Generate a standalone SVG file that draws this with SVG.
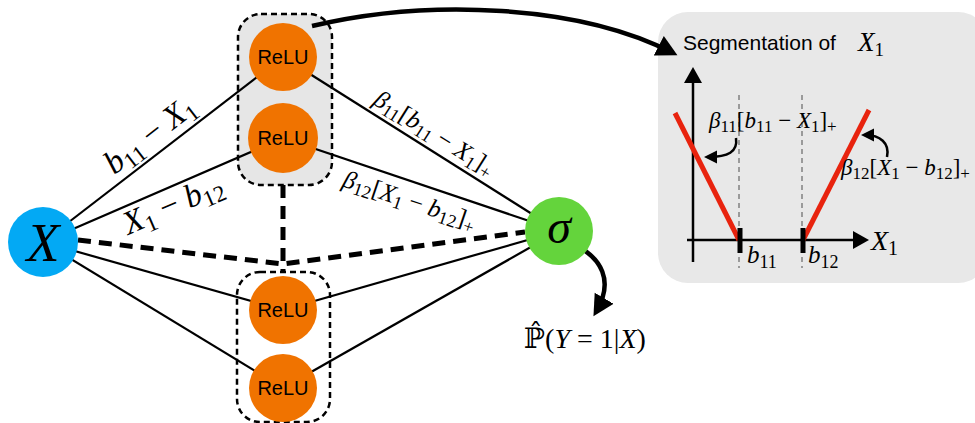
<svg xmlns="http://www.w3.org/2000/svg" width="975" height="423" viewBox="0 0 975 423">
<style>
.m{font-family:"Liberation Serif","DejaVu Serif",serif;fill:#000}
.i{font-style:italic}
.sans{font-family:"Liberation Sans",Arial,sans-serif;fill:#000}
.edge{stroke:#000;stroke-width:2.2;fill:none}
.thick{stroke:#000;stroke-width:5;stroke-dasharray:13 8;fill:none}
.box{stroke:#000;stroke-width:2.5;stroke-dasharray:6 4}
.relu{fill:#f07300}
.rl{font-family:"Liberation Sans",Arial,sans-serif;font-size:20px;text-anchor:middle;fill:#000}
.guide{stroke:#9a9a9a;stroke-width:2;stroke-dasharray:5 4}
.red{stroke:#e8230e;stroke-width:5;stroke-linecap:butt}
.arr{stroke:#000;fill:none}
</style>
<defs>
<marker id="big" markerUnits="userSpaceOnUse" markerWidth="22" markerHeight="24" refX="16" refY="11" orient="auto" viewBox="0 0 22 22">
<path d="M0,0 L21,11 L0,22 z" fill="#000"/>
</marker>
<marker id="small" markerUnits="userSpaceOnUse" markerWidth="14" markerHeight="14" refX="9" refY="6.5" orient="auto" viewBox="0 0 14 13">
<path d="M0,0 L13,6.5 L0,13 z" fill="#000"/>
</marker>
</defs>

<!-- right panel -->
<g id="panel">
<rect x="658" y="12" width="330" height="271" rx="30" fill="#e8e8e8"/>
<text x="683" y="50" class="sans" font-size="21">Segmentation of</text>
<text x="858" y="51" class="m" font-size="27"><tspan class="i">X</tspan><tspan font-size="19" dy="5">1</tspan></text>
<line class="guide" x1="739" y1="95" x2="739" y2="268"/>
<line class="guide" x1="802" y1="95" x2="802" y2="268"/>
<line x1="693" y1="262" x2="693" y2="78" stroke="#000" stroke-width="2.5"/>
<polygon points="693,67 684,83 702,83" fill="#000"/>
<line x1="687" y1="240" x2="856" y2="240" stroke="#000" stroke-width="2.5"/>
<polygon points="869,240 853,231 853,249" fill="#000"/>
<line class="red" x1="675" y1="113" x2="739" y2="240"/>
<line class="red" x1="803" y1="240" x2="869" y2="110"/>
<line x1="740" y1="228" x2="740" y2="253" stroke="#000" stroke-width="5"/>
<line x1="803" y1="228" x2="803" y2="253" stroke="#000" stroke-width="5"/>
<text x="871" y="250" class="m" font-size="28"><tspan class="i">X</tspan><tspan font-size="20" dy="5">1</tspan></text>
<text x="747" y="263" class="m" font-size="25"><tspan class="i">b</tspan><tspan font-size="18" dy="5">11</tspan></text>
<text x="808" y="263" class="m" font-size="25"><tspan class="i">b</tspan><tspan font-size="18" dy="5">12</tspan></text>
<text x="709" y="128" class="m" font-size="23"><tspan class="i">β</tspan><tspan font-size="17" dy="4">11</tspan><tspan dy="-4">[</tspan><tspan class="i">b</tspan><tspan font-size="17" dy="4">11</tspan><tspan dy="-4"> − </tspan><tspan class="i">X</tspan><tspan font-size="17" dy="4">1</tspan><tspan dy="-4">]</tspan><tspan font-size="17" dy="4">+</tspan></text>
<text x="841" y="175" class="m" font-size="23"><tspan class="i">β</tspan><tspan font-size="17" dy="4">12</tspan><tspan dy="-4">[</tspan><tspan class="i">X</tspan><tspan font-size="17" dy="4">1</tspan><tspan dy="-4"> − </tspan><tspan class="i">b</tspan><tspan font-size="17" dy="4">12</tspan><tspan dy="-4">]</tspan><tspan font-size="17" dy="4">+</tspan></text>
<path class="arr" stroke-width="2.5" d="M736,138 C738,152 728,157 708,157" marker-end="url(#small)"/>
<path class="arr" stroke-width="2.5" d="M887,157 C890,143 880,135 865,135" marker-end="url(#small)"/>
</g>

<!-- group boxes -->
<g id="group-top">
<rect class="box" x="238" y="14" width="94" height="171" rx="23" fill="#e6e6e6"/>
</g>
<g id="group-bottom">
<rect class="box" x="237" y="272" width="93" height="150" rx="23" fill="none"/>
</g>

<!-- connectors -->
<g id="connectors">
<line class="edge" x1="43" y1="242" x2="283" y2="57"/>
<line class="edge" x1="43" y1="242" x2="283" y2="138"/>
<line class="edge" x1="43" y1="242" x2="283" y2="310"/>
<line class="edge" x1="43" y1="242" x2="283" y2="388"/>
<line class="edge" x1="283" y1="57" x2="559" y2="231"/>
<line class="edge" x1="283" y1="138" x2="559" y2="231"/>
<line class="edge" x1="283" y1="310" x2="559" y2="231"/>
<line class="edge" x1="283" y1="388" x2="559" y2="231"/>
<path class="thick" d="M78,240 L283,264 L525,232"/>
<path class="thick" d="M283,185 L283,272"/>
<path class="arr" stroke-width="4.5" d="M312,26 C430,-2 580,5 673,53" marker-end="url(#big)"/>
<path class="arr" stroke-width="4.5" d="M577,246 C600,258 615,280 596,312" marker-end="url(#big)"/>
<g transform="translate(156,143) rotate(-37.6)">
<text class="m" font-size="33" text-anchor="middle"><tspan class="i">b</tspan><tspan font-size="23" dy="6">11</tspan><tspan dy="-6"> − </tspan><tspan class="i">X</tspan><tspan font-size="23" dy="6">1</tspan></text>
</g>
<g transform="translate(177,214) rotate(-23.4)">
<text class="m" font-size="33" text-anchor="middle"><tspan class="i">X</tspan><tspan font-size="23" dy="6">1</tspan><tspan dy="-6"> − </tspan><tspan class="i">b</tspan><tspan font-size="23" dy="6">12</tspan></text>
</g>
<g transform="translate(430,140) rotate(32.2)">
<text class="m" font-size="25" text-anchor="middle"><tspan class="i">β</tspan><tspan font-size="18" dy="4">11</tspan><tspan dy="-4">[</tspan><tspan class="i">b</tspan><tspan font-size="18" dy="4">11</tspan><tspan dy="-4"> − </tspan><tspan class="i">X</tspan><tspan font-size="18" dy="4">1</tspan><tspan dy="-4">]</tspan><tspan font-size="18" dy="4">+</tspan></text>
</g>
<g transform="translate(407,208) rotate(18.6)">
<text class="m" font-size="25" text-anchor="middle"><tspan class="i">β</tspan><tspan font-size="18" dy="4">12</tspan><tspan dy="-4">[</tspan><tspan class="i">X</tspan><tspan font-size="18" dy="4">1</tspan><tspan dy="-4"> − </tspan><tspan class="i">b</tspan><tspan font-size="18" dy="4">12</tspan><tspan dy="-4">]</tspan><tspan font-size="18" dy="4">+</tspan></text>
</g>
</g>

<!-- nodes -->
<g id="node-X">
<circle cx="43" cy="242" r="35" fill="#03a9f4"/>
<text x="43" y="261" class="m i" font-size="54" text-anchor="middle">X</text>
</g>
<g id="node-relu1">
<circle class="relu" cx="283" cy="57" r="34"/>
<text x="283" y="64" class="rl">ReLU</text>
</g>
<g id="node-relu2">
<circle class="relu" cx="283" cy="138" r="35"/>
<text x="283" y="145" class="rl">ReLU</text>
</g>
<g id="node-relu3">
<circle class="relu" cx="283" cy="310" r="34"/>
<text x="283" y="317" class="rl">ReLU</text>
</g>
<g id="node-relu4">
<circle class="relu" cx="283" cy="388" r="34"/>
<text x="283" y="395" class="rl">ReLU</text>
</g>
<g id="node-sigma">
<circle cx="559" cy="231" r="34" fill="#64d43c"/>
<text x="559" y="243" class="m i" font-size="48" text-anchor="middle">σ</text>
</g>
<g id="output-label">
<text x="524" y="348" class="m" font-size="28"><tspan font-family="DejaVu Serif">ℙ̂</tspan>(<tspan class="i">Y</tspan> = 1|<tspan class="i">X</tspan>)</text>
</g>
</svg>
